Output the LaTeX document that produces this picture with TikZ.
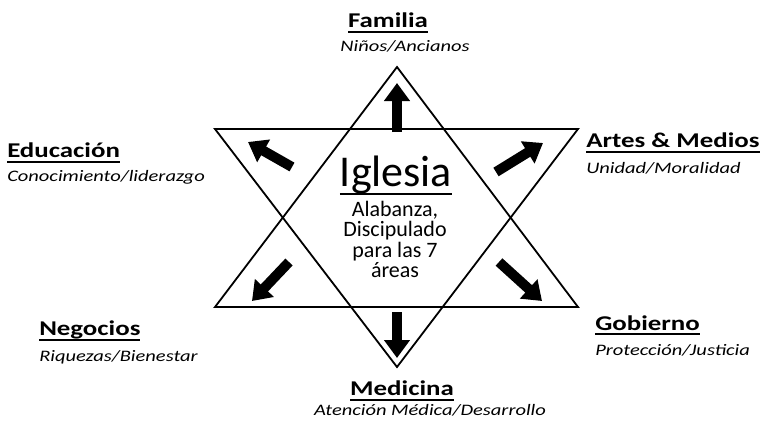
\documentclass[tikz,border=0pt]{standalone}
\usepackage{fontspec}
\setmainfont{Carlito}
\usetikzlibrary{arrows.meta, positioning}
\newcommand{\subr}[2][3.3pt]{\setbox0\hbox{#2}\rlap{\vrule height -#1 depth \dimexpr#1+2pt\relax width \wd0}\box0}
\tikzstyle{titulo}=[font=\fontsize{21}{24}\selectfont\bfseries, inner sep=0pt, xscale=1.28]
\tikzstyle{sub}=[font=\fontsize{16}{19}\selectfont\itshape, inner sep=0pt, xscale=1.28]
\tikzstyle{flecha}=[line width=10pt, -{Triangle[length=18pt,width=25pt]}]
\tikzstyle{linea}=[line width=1.8pt, line join=miter]

\begin{document}
\begin{tikzpicture}[x=1pt, y=-1pt]
 \useasboundingbox (0,0) rectangle (763,426);

 % estrella
 \coordinate (arriba) at (397,67);
 \coordinate (bizq) at (215,307);
 \coordinate (bder) at (578,307);
 \coordinate (aizq) at (215,129);
 \coordinate (ader) at (578,129);
 \coordinate (abajo) at (397,367);
 \draw[linea] (arriba) -- (bizq) -- (bder) -- cycle;
 \draw[linea] (aizq) -- (ader) -- (abajo) -- cycle;

 % centro
 \node[inner sep=0pt, font=\fontsize{44}{48}\selectfont, anchor=base] (iglesia) at (396,186) {\subr[7pt]{Iglesia}};
 \node[inner sep=0pt, font=\fontsize{22}{20.5}\selectfont, align=center, anchor=north] (texto) at (395,201) {Alabanza,\\Discipulado\\para las 7\\áreas};

 % flechas
 \coordinate (f1a) at (397,132); \coordinate (f1b) at (397,83);
 \coordinate (f2a) at (397,312); \coordinate (f2b) at (397,358);
 \coordinate (f3a) at (292,167); \coordinate (f3b) at (248,142);
 \coordinate (f4a) at (496,172); \coordinate (f4b) at (543,143);
 \coordinate (f5a) at (289,262); \coordinate (f5b) at (252,301);
 \coordinate (f6a) at (499,262); \coordinate (f6b) at (542,301);
 \foreach \i in {1,...,6}
   \draw[flecha] (f\i a) -- (f\i b);

 % areas
 \node[titulo, anchor=base] (familia) at (388,27.7) {\subr{Familia}};
 \node[sub, anchor=base] (familiaS) at (405,51.7) {Niños/Ancianos};

 \node[titulo, anchor=base west] (educacion) at (7,157.7) {\subr{Educación}};
 \node[sub, anchor=base west] (educacionS) at (7,181.7) {Conocimiento/liderazgo};

 \node[titulo, anchor=base west] (artes) at (586,147.7) {\subr{Artes \& Medios}};
 \node[sub, anchor=base west] (artesS) at (586,173.3) {Unidad/Moralidad};

 \node[titulo, anchor=base west] (negocios) at (39,335.7) {\subr{Negocios}};
 \node[sub, anchor=base west] (negociosS) at (39,361.7) {Riquezas/Bienestar};

 \node[titulo, anchor=base west] (gobierno) at (595,330) {\subr{Gobierno}};
 \node[sub, anchor=base west] (gobiernoS) at (595,355) {Protección/Justicia};

 \node[titulo, anchor=base] (medicina) at (402,395.7) {\subr{Medicina}};
 \node[sub, anchor=base] (medicinaS) at (430,415.7) {Atención Médica/Desarrollo};

\end{tikzpicture}
\end{document}
